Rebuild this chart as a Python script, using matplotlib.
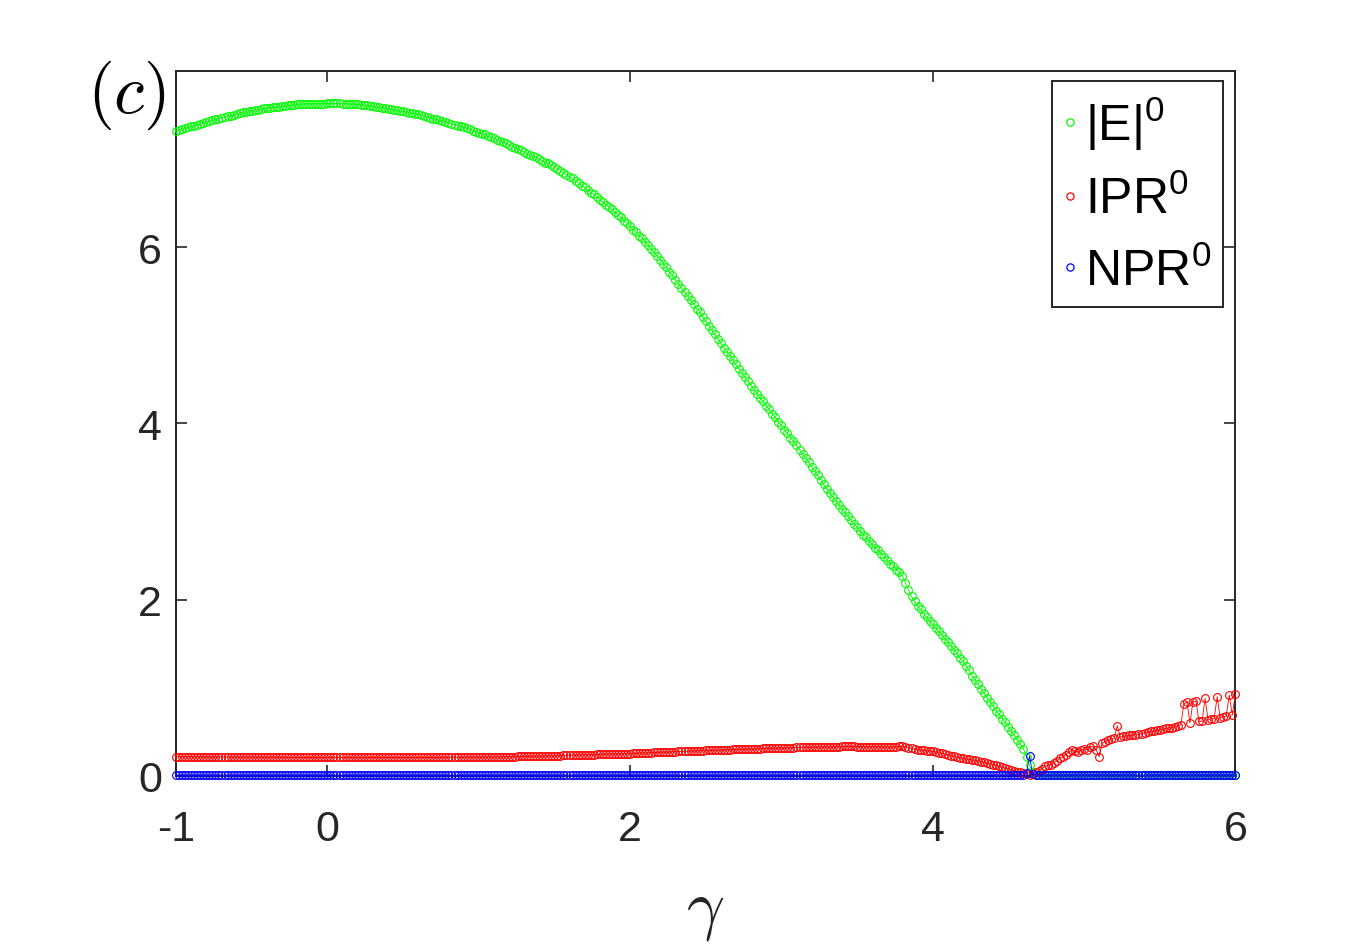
import numpy as np
import matplotlib
matplotlib.use("Agg")
import matplotlib.pyplot as plt
from matplotlib.lines import Line2D

# gamma grid (step 0.02 from -1 to 6)
gamma = np.round(np.arange(-1.0, 6.0001, 0.02), 2)

# |E|^0
E0 = [
    7.32, 7.33, 7.34, 7.35, 7.36, 7.37, 7.38, 7.39, 7.40, 7.41,
    7.42, 7.43, 7.44, 7.45, 7.46, 7.47, 7.48, 7.49, 7.49, 7.50,
    7.51, 7.52, 7.53, 7.53, 7.54, 7.55, 7.556, 7.56, 7.57, 7.575,
    7.58, 7.584, 7.588, 7.592, 7.596, 7.60, 7.604, 7.608, 7.612, 7.616,
    7.62, 7.622, 7.624, 7.626, 7.628, 7.63, 7.63, 7.63, 7.63, 7.63,
    7.632, 7.632, 7.632, 7.632, 7.631, 7.63, 7.628, 7.626, 7.624, 7.622,
    7.62, 7.616, 7.612, 7.608, 7.604, 7.60, 7.594, 7.588, 7.582, 7.576,
    7.57, 7.564, 7.558, 7.552, 7.546, 7.54, 7.534, 7.528, 7.522, 7.516,
    7.51, 7.50, 7.49, 7.48, 7.47, 7.46, 7.45, 7.44, 7.43, 7.42,
    7.41, 7.40, 7.39, 7.38, 7.37, 7.36, 7.35, 7.34, 7.32, 7.31,
    7.30, 7.29, 7.28, 7.26, 7.25, 7.24, 7.22, 7.21, 7.19, 7.18,
    7.16, 7.14, 7.13, 7.11, 7.10, 7.08, 7.06, 7.05, 7.03, 7.02,
    7.00, 6.98, 6.96, 6.95, 6.93, 6.91, 6.89, 6.87, 6.84, 6.82,
    6.80, 6.78, 6.75, 6.73, 6.70, 6.68, 6.65, 6.62, 6.60, 6.57,
    6.54, 6.51, 6.48, 6.46, 6.43, 6.40, 6.37, 6.34, 6.30, 6.27,
    6.24, 6.20, 6.17, 6.13, 6.10, 6.06, 6.02, 5.98, 5.94, 5.90,
    5.86, 5.81, 5.77, 5.72, 5.68, 5.63, 5.58, 5.54, 5.49, 5.45,
    5.40, 5.35, 5.30, 5.26, 5.21, 5.16, 5.11, 5.06, 5.01, 4.96,
    4.91, 4.86, 4.81, 4.77, 4.72, 4.67, 4.62, 4.57, 4.53, 4.48,
    4.43, 4.38, 4.34, 4.29, 4.25, 4.20, 4.16, 4.11, 4.07, 4.02,
    3.98, 3.93, 3.89, 3.84, 3.80, 3.75, 3.70, 3.65, 3.61, 3.56,
    3.51, 3.46, 3.41, 3.36, 3.31, 3.26, 3.21, 3.17, 3.12, 3.08,
    3.03, 2.99, 2.95, 2.90, 2.86, 2.82, 2.78, 2.74, 2.71, 2.67,
    2.63, 2.59, 2.56, 2.52, 2.49, 2.45, 2.41, 2.38, 2.34, 2.31,
    2.27, 2.19, 2.11, 2.04, 1.98, 1.93, 1.89, 1.84, 1.80, 1.76,
    1.72, 1.68, 1.64, 1.60, 1.56, 1.52, 1.48, 1.43, 1.39, 1.34,
    1.30, 1.25, 1.20, 1.14, 1.09, 1.04, 0.99, 0.94, 0.89, 0.84,
    0.79, 0.74, 0.70, 0.65, 0.61, 0.56, 0.51, 0.46, 0.41, 0.36,
    0.31, 0.22, 0.12, 0.04, 0.01,
    0.01, 0.01, 0.01, 0.01, 0.01, 0.01, 0.01, 0.01, 0.01, 0.01,
    0.01, 0.01, 0.01, 0.01, 0.01, 0.01, 0.01, 0.01, 0.01, 0.01,
    0.01, 0.01, 0.01, 0.01, 0.01, 0.01, 0.01, 0.01, 0.01, 0.01,
    0.01, 0.01, 0.01, 0.01, 0.01, 0.01, 0.01, 0.01, 0.01, 0.01,
    0.01, 0.01, 0.01, 0.01, 0.01, 0.01, 0.01, 0.01, 0.01, 0.01,
    0.01, 0.01, 0.01, 0.01, 0.01, 0.01, 0.01, 0.01, 0.01, 0.01,
    0.01, 0.01, 0.01, 0.01, 0.01, 0.01,
]

# IPR^0
IPR0 = [
    0.220, 0.220, 0.219, 0.219, 0.219, 0.219, 0.218, 0.218, 0.218, 0.218,
    0.218, 0.217, 0.217, 0.217, 0.217, 0.217, 0.217, 0.216, 0.216, 0.216,
    0.216, 0.216, 0.216, 0.215, 0.215, 0.215, 0.215, 0.214, 0.214, 0.214,
    0.214, 0.213, 0.213, 0.213, 0.213, 0.212, 0.212, 0.212, 0.212, 0.211,
    0.211, 0.211, 0.211, 0.211, 0.210, 0.210, 0.210, 0.210, 0.210, 0.210,
    0.210, 0.210, 0.210, 0.210, 0.210, 0.210, 0.210, 0.210, 0.210, 0.210,
    0.210, 0.210, 0.210, 0.210, 0.210, 0.210, 0.210, 0.210, 0.210, 0.210,
    0.210, 0.210, 0.210, 0.210, 0.210, 0.210, 0.210, 0.210, 0.211, 0.211,
    0.211, 0.211, 0.211, 0.212, 0.212, 0.212, 0.212, 0.213, 0.213, 0.213,
    0.213, 0.213, 0.214, 0.214, 0.214, 0.214, 0.214, 0.214, 0.215, 0.215,
    0.215, 0.216, 0.216, 0.217, 0.217, 0.218, 0.218, 0.219, 0.219, 0.220,
    0.220, 0.221, 0.221, 0.222, 0.222, 0.223, 0.223, 0.224, 0.224, 0.225,
    0.225, 0.226, 0.227, 0.228, 0.229, 0.230, 0.231, 0.232, 0.233, 0.234,
    0.235, 0.236, 0.237, 0.238, 0.239, 0.240, 0.241, 0.242, 0.243, 0.244,
    0.245, 0.246, 0.247, 0.248, 0.249, 0.250, 0.251, 0.252, 0.253, 0.254,
    0.255, 0.257, 0.258, 0.260, 0.261, 0.262, 0.264, 0.265, 0.267, 0.268,
    0.269, 0.271, 0.272, 0.274, 0.275, 0.276, 0.278, 0.279, 0.281, 0.282,
    0.283, 0.285, 0.286, 0.288, 0.289, 0.290, 0.291, 0.293, 0.294, 0.295,
    0.296, 0.297, 0.299, 0.300, 0.301, 0.302, 0.303, 0.305, 0.306, 0.307,
    0.308, 0.309, 0.310, 0.311, 0.312, 0.314, 0.315, 0.316, 0.317, 0.318,
    0.320, 0.321, 0.322, 0.322, 0.323, 0.324, 0.325, 0.326, 0.326, 0.327,
    0.328, 0.329, 0.329, 0.330, 0.331, 0.331, 0.332, 0.333, 0.333, 0.334,
    0.335, 0.335, 0.335, 0.335, 0.335, 0.334, 0.334, 0.334, 0.334, 0.333,
    0.333, 0.333, 0.332, 0.332, 0.331, 0.330, 0.330, 0.330, 0.331, 0.335,
    0.340, 0.332, 0.322, 0.314, 0.307, 0.300, 0.296, 0.292, 0.288, 0.284,
    0.280, 0.272, 0.264, 0.256, 0.248, 0.240, 0.232, 0.224, 0.216, 0.208,
    0.200, 0.194, 0.188, 0.182, 0.176, 0.170, 0.162, 0.154, 0.146, 0.138,
    0.130, 0.120, 0.110, 0.100, 0.090, 0.080, 0.070, 0.060, 0.050, 0.040,
    0.03, 0.02, 0.01, 0.02, 0.04, 0.06, 0.08, 0.11, 0.12, 0.13,
    0.15, 0.17, 0.20, 0.22, 0.24, 0.27, 0.30, 0.28, 0.27, 0.29,
    0.31, 0.30, 0.33, 0.34, 0.30, 0.22, 0.37, 0.39, 0.41, 0.42,
    0.43, 0.57, 0.44, 0.45, 0.455, 0.46, 0.465, 0.47, 0.475, 0.48,
    0.49, 0.50, 0.505, 0.51, 0.52, 0.525, 0.53, 0.54, 0.545, 0.55,
    0.56, 0.57, 0.58, 0.82, 0.84, 0.60, 0.84, 0.85, 0.62, 0.62,
    0.88, 0.64, 0.65, 0.65, 0.90, 0.66, 0.67, 0.68, 0.92, 0.69,
    0.93,
]

# NPR^0
NPR0 = [
    0.01, 0.01, 0.01, 0.01, 0.01, 0.01, 0.01, 0.01, 0.01, 0.01, 0.01, 0.01, 0.01, 0.01, 0.01, 0.01, 0.01, 0.01, 0.01, 0.01,
    0.01, 0.01, 0.01, 0.01, 0.01, 0.01, 0.01, 0.01, 0.01, 0.01, 0.01, 0.01, 0.01, 0.01, 0.01, 0.01, 0.01, 0.01, 0.01, 0.01,
    0.01, 0.01, 0.01, 0.01, 0.01, 0.01, 0.01, 0.01, 0.01, 0.01, 0.01, 0.01, 0.01, 0.01, 0.01, 0.01, 0.01, 0.01, 0.01, 0.01,
    0.01, 0.01, 0.01, 0.01, 0.01, 0.01, 0.01, 0.01, 0.01, 0.01, 0.01, 0.01, 0.01, 0.01, 0.01, 0.01, 0.01, 0.01, 0.01, 0.01,
    0.01, 0.01, 0.01, 0.01, 0.01, 0.01, 0.01, 0.01, 0.01, 0.01, 0.01, 0.01, 0.01, 0.01, 0.01, 0.01, 0.01, 0.01, 0.01, 0.01,
    0.01, 0.01, 0.01, 0.01, 0.01, 0.01, 0.01, 0.01, 0.01, 0.01, 0.01, 0.01, 0.01, 0.01, 0.01, 0.01, 0.01, 0.01, 0.01, 0.01,
    0.01, 0.01, 0.01, 0.01, 0.01, 0.01, 0.01, 0.01, 0.01, 0.01, 0.01, 0.01, 0.01, 0.01, 0.01, 0.01, 0.01, 0.01, 0.01, 0.01,
    0.01, 0.01, 0.01, 0.01, 0.01, 0.01, 0.01, 0.01, 0.01, 0.01, 0.01, 0.01, 0.01, 0.01, 0.01, 0.01, 0.01, 0.01, 0.01, 0.01,
    0.01, 0.01, 0.01, 0.01, 0.01, 0.01, 0.01, 0.01, 0.01, 0.01, 0.01, 0.01, 0.01, 0.01, 0.01, 0.01, 0.01, 0.01, 0.01, 0.01,
    0.01, 0.01, 0.01, 0.01, 0.01, 0.01, 0.01, 0.01, 0.01, 0.01, 0.01, 0.01, 0.01, 0.01, 0.01, 0.01, 0.01, 0.01, 0.01, 0.01,
    0.01, 0.01, 0.01, 0.01, 0.01, 0.01, 0.01, 0.01, 0.01, 0.01, 0.01, 0.01, 0.01, 0.01, 0.01, 0.01, 0.01, 0.01, 0.01, 0.01,
    0.01, 0.01, 0.01, 0.01, 0.01, 0.01, 0.01, 0.01, 0.01, 0.01, 0.01, 0.01, 0.01, 0.01, 0.01, 0.01, 0.01, 0.01, 0.01, 0.01,
    0.01, 0.01, 0.01, 0.01, 0.01, 0.01, 0.01, 0.01, 0.01, 0.01, 0.01, 0.01, 0.01, 0.01, 0.01, 0.01, 0.01, 0.01, 0.01, 0.01,
    0.01, 0.01, 0.01, 0.01, 0.01, 0.01, 0.01, 0.01, 0.01, 0.01, 0.01, 0.01, 0.01, 0.01, 0.01, 0.01, 0.01, 0.01, 0.01, 0.01,
    0.01, 0.03, 0.23, 0.02,
    0.01, 0.01, 0.01, 0.01, 0.01, 0.01, 0.01, 0.01, 0.01, 0.01, 0.01, 0.01, 0.01, 0.01, 0.01, 0.01, 0.01, 0.01, 0.01, 0.01,
    0.01, 0.01, 0.01, 0.01, 0.01, 0.01, 0.01, 0.01, 0.01, 0.01, 0.01, 0.01, 0.01, 0.01, 0.01, 0.01, 0.01, 0.01, 0.01, 0.01,
    0.01, 0.01, 0.01, 0.01, 0.01, 0.01, 0.01, 0.01, 0.01, 0.01, 0.01, 0.01, 0.01, 0.01, 0.01, 0.01, 0.01, 0.01, 0.01, 0.01,
    0.01, 0.01, 0.01, 0.01, 0.01, 0.01, 0.01,
]

labels = [r"$\mathrm{|E|}^{0}$", r"IPR$^{0}$", r"NPR$^{0}$"]
colors = ["#00ff00", "#ff0000", "#0000ff"]

assert len(E0) == len(gamma), (len(E0), len(gamma))
assert len(IPR0) == len(gamma), len(IPR0)
assert len(NPR0) == len(gamma), len(NPR0)

plt.rcParams["font.family"] = ["Liberation Sans", "DejaVu Sans"]
plt.rcParams["mathtext.fontset"] = "custom"
plt.rcParams["mathtext.rm"] = "Liberation Sans"
plt.rcParams["mathtext.it"] = "Liberation Sans:italic"
plt.rcParams["axes.unicode_minus"] = False

axcol = "#262626"
fig = plt.figure(figsize=(13.65, 9.53), dpi=100)
ax = fig.add_axes([0.129, 0.1847, 0.776, 0.7398])

for ys, c in zip([E0, IPR0, NPR0], colors):
    ax.plot(gamma, ys, "-", color=c, lw=0.6, marker="o", markersize=5.6,
            markerfacecolor="none", markeredgecolor=c, markeredgewidth=0.8,
            clip_on=False, zorder=3)

ax.set_xlim(-1, 6)
ax.set_ylim(0, 8)
ax.set_xticks([-1, 0, 2, 4, 6])
ax.set_yticks([0, 2, 4, 6])
ax.tick_params(direction="in", length=8, width=1.2, top=True, right=True,
               labelsize=31, colors=axcol, labelcolor=axcol)
ax.tick_params(axis="x", pad=24)
ax.tick_params(axis="y", pad=10)
for sp in ax.spines.values():
    sp.set_linewidth(1.4)
    sp.set_color(axcol)

handles = [Line2D([0], [0], ls="none", marker="o", markersize=5.2, markerfacecolor="none",
                  markeredgecolor=c, markeredgewidth=0.9) for c in colors]
leg = ax.legend(handles, labels, loc="upper right", bbox_to_anchor=(0.9887, 0.9858),
                borderaxespad=0, fontsize=36, fancybox=False, framealpha=1,
                edgecolor=axcol, handlelength=0.2, handletextpad=0.2,
                labelspacing=0.47, borderpad=0.25)
leg.get_frame().set_linewidth(1.4)
leg.set_zorder(5)

fig.text(0.5165, 0.043, r"$\gamma$", fontsize=48, math_fontfamily="cm",
         ha="center", va="center", color=axcol)
fig.text(0.093, 0.90, r"$(c)$", fontsize=50, math_fontfamily="cm",
         ha="center", va="center", color="black")

fig.savefig("out.png", dpi=100)
